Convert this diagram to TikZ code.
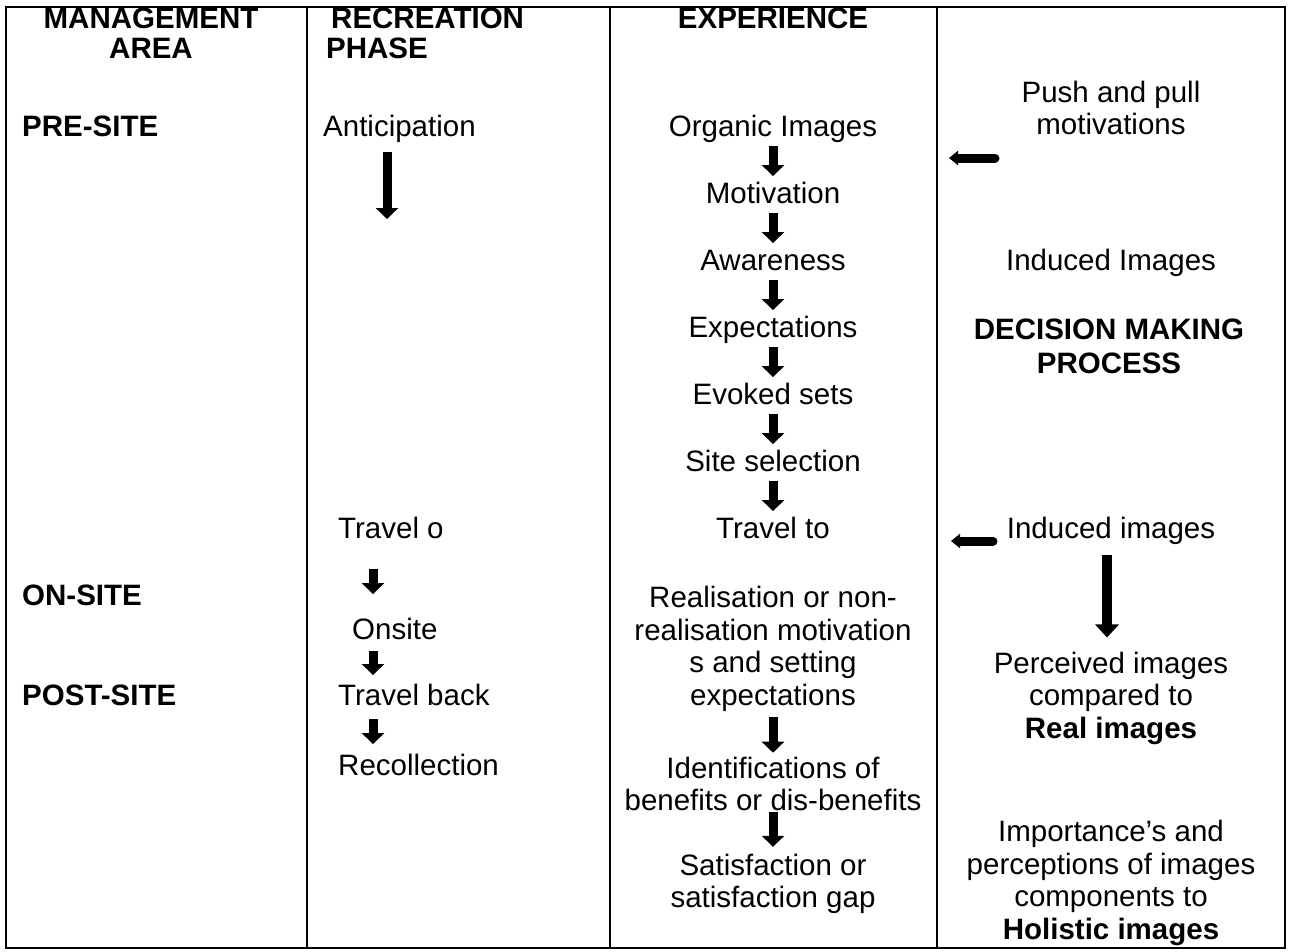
\documentclass[tikz,border=0pt]{standalone}
\usepackage{fontspec}
\setmainfont{Liberation Sans}
\usetikzlibrary{arrows.meta}

\begin{document}
\begin{tikzpicture}[x=1pt,y=-1pt,
  rule/.style={line width=1.4pt},
  txt/.style={inner sep=0pt,font=\fontsize{29.5}{32.5}\selectfont,text height=21pt,text depth=6.5pt},
  mtxt/.style={inner sep=0pt,font=\fontsize{29.5}{32.5}\selectfont,align=center},
  hd/.style={txt,font=\fontsize{29.5}{32.5}\selectfont\bfseries},
  flow/.style={line width=9pt,-{Triangle[width=22pt,length=11pt]}},
  bigflow/.style={line width=10pt,-{Triangle[width=23pt,length=13pt]}},
  back/.style={line width=9pt,line cap=round,-{Triangle[width=14pt,length=9pt]}}
]
\useasboundingbox (0,0) rectangle (1290,951);

% table frame and column rules
\draw[rule] (6,7) rectangle (1285,948);
\draw[rule] (307,7) -- (307,948);
\draw[rule] (610,7) -- (610,948);
\draw[rule] (937,7) -- (937,948);

% column 1: management area
\node[hd] (mg1) at (151,21) {MANAGEMENT};
\node[hd] (mg2) at (151,51) {AREA};
\node[hd,anchor=west] (pre) at (22,129) {PRE-SITE};
\node[hd,anchor=west] (on) at (22,598) {ON-SITE};
\node[hd,anchor=west] (post) at (22,698) {POST-SITE};

% column 2: recreation phase
\node[hd,anchor=west] (rp1) at (331,21) {RECREATION};
\node[hd,anchor=west] (rp2) at (326,51) {PHASE};
\node[txt,anchor=west] (antic) at (323,129) {Anticipation};
\node[txt,anchor=west] (travo) at (338,531) {Travel o};
\node[txt,anchor=west] (onst) at (352,632) {Onsite};
\node[txt,anchor=west] (travb) at (338,698) {Travel back};
\node[txt,anchor=west] (recol) at (338,768) {Recollection};
\coordinate (c2a) at (387,0);
\coordinate (c2b) at (373,0);
\coordinate (antend) at (387,219);

\draw[flow] (antic.south -| c2a) ++(0,9) -- (antend);
\draw[flow,shorten <=24pt,shorten >=24pt] (travo.south -| c2b) -- (onst.north -| c2b);
\draw[flow,shorten <=5pt,shorten >=9pt] (onst.south -| c2b) -- (travb.north -| c2b);
\draw[flow,shorten <=7pt,shorten >=10pt] (travb.south -| c2b) -- (recol.north -| c2b);

% column 3: experience
\node[hd] (exp) at (773,21) {EXPERIENCE};
\node[txt] (org) at (773,129) {Organic Images};
\node[txt] (mot) at (773,196) {Motivation};
\node[txt] (awa) at (773,263) {Awareness};
\node[txt] (expc) at (773,330) {Expectations};
\node[txt] (evk) at (773,397) {Evoked sets};
\node[txt] (sel) at (773,464) {Site selection};
\node[txt] (trt) at (773,531) {Travel to};
\node[mtxt] (real) at (773,649) {Realisation or non-\\realisation motivation\\s and setting\\expectations};
\node[mtxt] (ident) at (773,784) {Identifications of\\benefits or dis-benefits};
\node[mtxt] (sat) at (773,884) {Satisfaction or\\satisfaction gap};

\foreach \a/\b in {org/mot,mot/awa,awa/expc,expc/evk,evk/sel,sel/trt}
  \draw[flow,shorten <=3pt,shorten >=6pt] (\a.south) -- (\b.north);
\draw[flow,shorten <=5pt,shorten >=4pt] (real.south) -- (ident.north);
\draw[flow,shorten <=1pt,shorten >=7pt] (ident.south) -- (sat.north);

% column 4: images and decision making
\node[mtxt] (push) at (1111,108) {Push and pull\\motivations};
\node[txt] (ind1) at (1111,263) {Induced Images};
\node[mtxt,font=\fontsize{29.5}{34}\selectfont\bfseries] (dec) at (1109,346) {DECISION MAKING\\PROCESS};
\node[txt] (ind2) at (1111,531) {Induced images};
\node[mtxt] (perc) at (1111,698) {Perceived images\\compared to\\\textbf{Real images}};
\node[mtxt] (imp) at (1111,883) {Importance’s and\\perceptions of images\\components to\\\textbf{Holistic images}};
\coordinate (c4) at (1107,0);
\coordinate (b1s) at (995,158);
\coordinate (b1e) at (949,158);
\coordinate (b2s) at (993,541);
\coordinate (b2e) at (951,541);

\draw[back] (b1s) -- (b1e);
\draw[back] (b2s) -- (b2e);
\draw[bigflow,shorten <=10pt,shorten >=14pt] (ind2.south -| c4) -- (perc.north -| c4);
\end{tikzpicture}
\end{document}
